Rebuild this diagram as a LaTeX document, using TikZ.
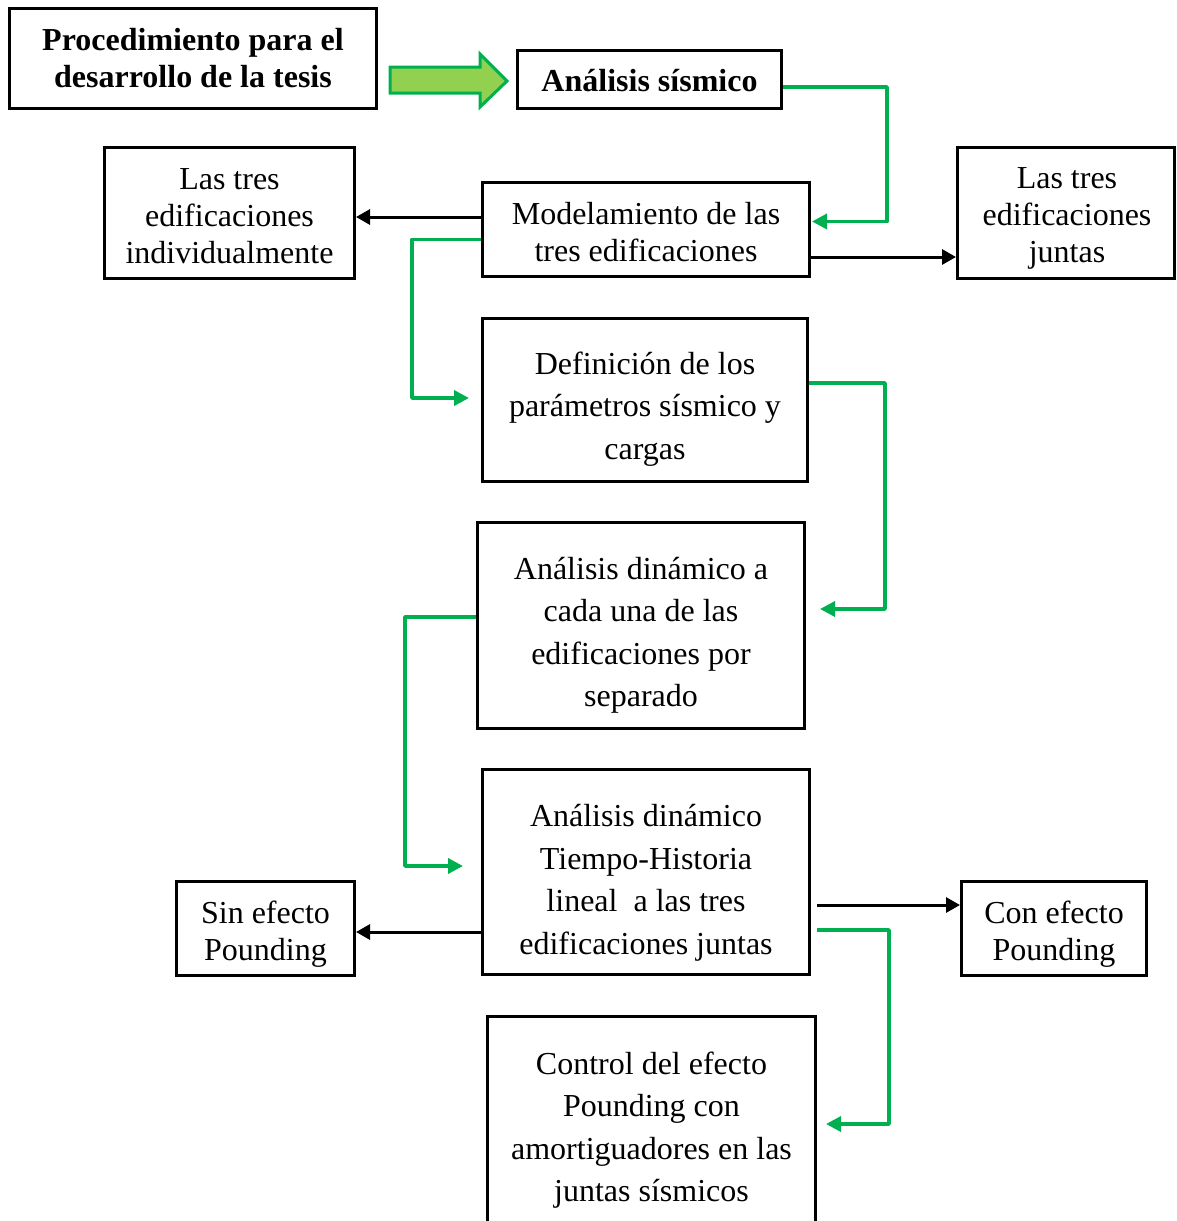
\documentclass[tikz,border=0pt]{standalone}
\usepackage{fontspec}
\setmainfont{Liberation Serif}
\usetikzlibrary{arrows.meta,calc}
\definecolor{wgreen}{HTML}{00B050}
\definecolor{lgreen}{HTML}{92D050}
\tikzset{
  box/.style={draw, line width=3pt, inner sep=0pt},
  txt/.style={inner sep=0pt, align=center, font=\fontsize{32}{37}\selectfont},
  bold/.style={font=\bfseries\fontsize{32}{37}\selectfont},
  wide/.style={font=\fontsize{32}{42.5}\selectfont},
  gline/.style={draw=wgreen, line width=3.5pt, line join=round,
    -{Triangle[length=15pt,width=15pt]}},
  bline/.style={draw=black, line width=3pt,
    -{Triangle[length=14pt,width=15pt]}},
  blockarrow/.style={draw=wgreen, fill=lgreen, line width=3pt, line join=miter}
}
\begin{document}
\begin{tikzpicture}[x=1pt,y=-1pt]
\useasboundingbox (0,0) rectangle (1177,1221);
\fill[white] (0,0) rectangle (1177,1221);

% frames
\node[box, minimum width=367pt, minimum height=100pt] (proc)   at (193,58.5)   {};
\node[box, minimum width=264pt, minimum height=58pt]  (ana)    at (649.5,79)   {};
\node[box, minimum width=250pt, minimum height=131pt] (indiv)  at (229.5,213)  {};
\node[box, minimum width=327pt, minimum height=94pt]  (model)  at (646,229.5)  {};
\node[box, minimum width=217pt, minimum height=131pt] (juntas) at (1066,213)   {};
\node[box, minimum width=325pt, minimum height=163pt] (defi)   at (645,400)    {};
\node[box, minimum width=327pt, minimum height=206pt] (din)    at (641,625.5)  {};
\node[box, minimum width=327pt, minimum height=205pt] (th)     at (646,872)    {};
\node[box, minimum width=178pt, minimum height=94pt]  (sin)    at (265.5,928.5){};
\node[box, minimum width=185pt, minimum height=94pt]  (con)    at (1054,928.5) {};
\node[box, minimum width=328pt, minimum height=219pt] (ctrl)   at (651.5,1126) {};

% texts inside the frames
\node[txt, bold] (proc-t)   at ($(proc)+(0,0)$)   {Procedimiento para el\\desarrollo de la tesis};
\node[txt, bold] (ana-t)    at ($(ana)+(0,2)$)    {Análisis sísmico};
\node[txt]       (indiv-t)  at ($(indiv)+(0,3)$)  {Las tres\\edificaciones\\individualmente};
\node[txt]       (model-t)  at ($(model)+(0,3)$)  {Modelamiento de las\\tres edificaciones};
\node[txt]       (juntas-t) at ($(juntas)+(1,5)$) {Las tres\\edificaciones\\juntas};
\node[txt, wide] (defi-t)   at ($(defi)+(0,9)$)   {Definición de los\\parámetros sísmico y\\cargas};
\node[txt, wide] (din-t)    at ($(din)+(0,10)$)   {Análisis dinámico a\\cada una de las\\edificaciones por\\separado};
\node[txt, wide] (th-t)     at ($(th)+(0,11)$)    {Análisis dinámico\\Tiempo-Historia\\lineal\ \ a las tres\\edificaciones juntas};
\node[txt]       (sin-t)    at ($(sin)+(0,6)$)    {Sin efecto\\Pounding};
\node[txt]       (con-t)    at ($(con)+(0,6)$)    {Con efecto\\Pounding};
\node[txt, wide] (ctrl-t)   at ($(ctrl)+(0,4)$)   {Control del efecto\\Pounding con\\amortiguadores en las\\juntas sísmicos};

% block arrow between the two headers
\draw[blockarrow]
  ($(proc.east|-ana.west)+(12,-12)$) -- ($(ana.west)+(-36,-12)$)
  -- ($(ana.west)+(-36,-25)$) -- ($(ana.west)+(-9,2)$)
  -- ($(ana.west)+(-36,28)$) -- ($(ana.west)+(-36,14)$)
  -- ($(proc.east|-ana.west)+(12,14)$) -- cycle;

% green flow connectors
\draw[gline] ($(ana.east)+(0,8)$) -- ++(104,0) |- ($(model.east)+(1,-8)$);
\draw[gline] ($(model.west)+(0,10)$) -- ++(-69,0) |- ($(defi.west)+(-12,-2)$);
\draw[gline] ($(defi.east)+(0,-17)$) -- ++(76,0) |- ($(din.east)+(14,-16.5)$);
\draw[gline] ($(din.west)+(0,-8.5)$) -- ++(-71,0) |- ($(th.west)+(-18,-6)$);
\draw[gline] ($(th.east)+(6,58)$) -- ++(72,0) |- ($(ctrl.east)+(9,-2)$);

% black branch arrows
\draw[bline] ($(model.west)+(0,-12.5)$) -- ($(indiv.east)+(0,4)$);
\draw[bline] ($(model.east)+(0,27.5)$) -- ($(juntas.west)+(0,44)$);
\draw[bline] ($(th.west)+(0,60)$) -- ($(sin.east)+(0,3.5)$);
\draw[bline] ($(th.east)+(6,33)$) -- ($(con.west)+(0,-23.5)$);
\end{tikzpicture}
\end{document}
